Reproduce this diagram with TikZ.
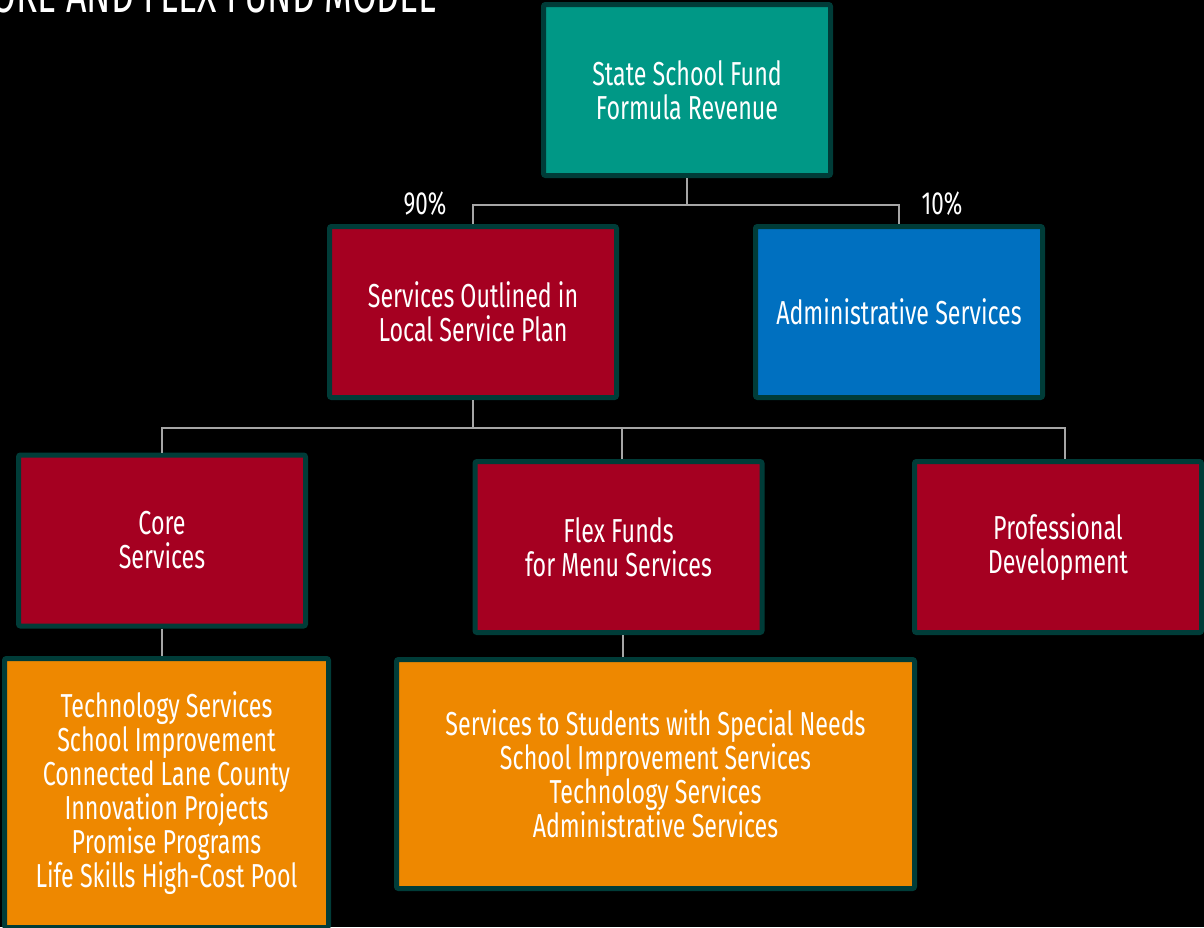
\documentclass[tikz,border=0pt]{standalone}
\usepackage{fontspec}
\setmainfont[FakeStretch=0.7]{Fira Sans}
\usetikzlibrary{positioning}

\definecolor{fundteal}{HTML}{009886}
\definecolor{planred}{HTML}{A50021}
\definecolor{adminblue}{HTML}{0070C0}
\definecolor{menuorange}{HTML}{EE8800}
\definecolor{boxedge}{HTML}{003C38}
\definecolor{linkgray}{HTML}{A6A6A6}

\begin{document}
\begin{tikzpicture}[x=0.5pt,y=-0.5pt]
\tikzstyle{box}=[draw=boxedge,line width=2.5pt,rounded corners=1pt,text=white,align=center,inner sep=0pt,font=\fontsize{16.6}{17}\selectfont]
\tikzstyle{unit}=[box,minimum width=143.5pt,minimum height=85.5pt]
\tikzstyle{link}=[draw=linkgray,line width=1pt]
\tikzstyle{share}=[text=white,inner sep=0pt,font=\fontsize{16}{17}\selectfont]

\useasboundingbox (0,0) rectangle (1204,927);
\clip (0,0) rectangle (1204,927);
\fill[black] (0,0) rectangle (1204,927);

% Heading
\node[anchor=base east,inner sep=0pt,text=white,font=\fontsize{25.5}{27}\selectfont] (title) at (437,12) {CORE AND FLEX FUND MODEL};

% Revenue
\node[unit,fill=fundteal] (fund) at (687,90) {State School Fund\\Formula Revenue};
% Split
\node[unit,fill=planred] (plan) at (473,312) {Services Outlined in\\Local Service Plan};
\node[unit,fill=adminblue] (admin) at (899,312) {Administrative Services};
% Service plan
\node[unit,fill=planred] (core) at (162,540.5) {Core\\Services};
\node[unit,fill=planred] (flex) at (618.5,547) {Flex Funds\\for Menu Services};
\node[unit,fill=planred] (prof) at (1058,547) {Professional\\Development};
% Service lists
\node[box,fill=menuorange,minimum width=162pt,minimum height=134.5pt] (corelist) at (166.5,793)
  {Technology Services\\School Improvement\\Connected Lane County\\Innovation Projects\\Promise Programs\\Life Skills High-Cost Pool};
\node[box,fill=menuorange,minimum width=259pt,minimum height=114.5pt] (menulist) at (655.5,774)
  {Services to Students with Special Needs\\School Improvement Services\\Technology Services\\Administrative Services};

% Percentages
\node[share] (pct90) at (425,204) {90\%};
\node[share] (pct10) at (942,204) {10\%};

\coordinate (split1) at (687,205);
\coordinate (split2) at (473,428);

\draw[link] (fund.south) -- (split1);
\draw[link] (plan.north) |- (split1) -| (admin.north);
\draw[link] (plan.south) -- (split2);
\draw[link] (core.north) |- (split2) -| ([xshift=3.5pt]prof.north);
\draw[link] ([xshift=1.75pt]flex.north) -- ([xshift=1.75pt]flex.north |- split2);
\draw[link] (core.south) -- (core.south |- corelist.north);
\draw[link] ([xshift=2pt]flex.south) -- ([xshift=2pt]flex.south |- menulist.north);

\end{tikzpicture}
\end{document}
